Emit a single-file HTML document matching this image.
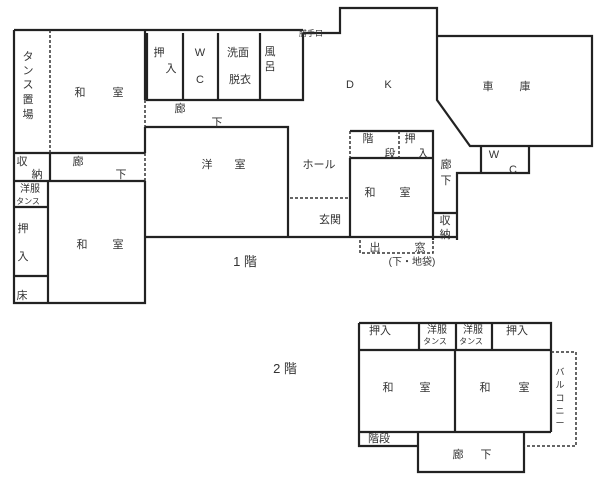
<!DOCTYPE html>
<html><head><meta charset="utf-8"><style>
html,body{margin:0;padding:0;background:#fff;}
svg{display:block;}
text{font-family:"Liberation Sans","Noto Sans CJK JP",sans-serif;fill:#333;}
</style></head><body>
<svg width="611" height="480" viewBox="0 0 611 480" xmlns="http://www.w3.org/2000/svg">
<g fill="none" stroke="#222" stroke-width="2.2">
<path d="M14 30 H303 M14 30 V303 H145 V181 M145 30 V100 M145 127 V153 M14 153 H145 M14 181 H145 M50 153 V181 M48 181 V303 M14 207 H48 M14 276 H48"/>
<path d="M147 33 V100 H303 V33 M183 33 V100 M218 33 V100 M260 33 V100"/>
<path d="M303 33 H340 V8 H437 V100 L470 146 H592 V36 H437"/>
<path d="M481 146 V173 H529 V146 M529 173 H457 V240"/>
<path d="M145 127 H288 V238 M145 237 H457"/>
<path d="M350 131 H433 V240 M350 158 H433 M350 158 V238 M433 213 H457"/>
<path d="M359 323 H551 V432 M359 323 V446 H418 M359 350 H551 M419 323 V350 M456 323 V350 M492 323 V350 M455 350 V432 M359 432 H551 M418 432 V472 H524 V432"/>
</g>
<g fill="none" stroke="#333" stroke-width="1.5" stroke-dasharray="3,2">
<path d="M50 30 V153 M145 100 V127 M145 153 V181 M290 198 H350 M350 131 V158 M399 131 V158 M360 240 V253 H433 V240 M551 352 H576 V446 H524"/>
</g>
<g font-size="11" text-anchor="middle">
<text x="28" y="60">タ</text><text x="28" y="74">ン</text><text x="28" y="88">ス</text><text x="28" y="103">置</text><text x="28" y="118">場</text>
<text x="80" y="96">和</text><text x="118" y="96">室</text>
<text x="159" y="56">押</text><text x="171" y="72">入</text>
<text x="200" y="56">W</text><text x="200" y="83">C</text>
<text x="238" y="56">洗面</text><text x="240" y="83">脱衣</text>
<text x="270" y="55">風</text><text x="270" y="70">呂</text>
<text x="180" y="112">廊</text><text x="217" y="126">下</text>
<text x="22" y="165">収</text><text x="37" y="178">納</text>
<text x="78" y="165">廊</text><text x="121" y="178">下</text>
<text x="30" y="192" font-size="10">洋服</text><text x="28" y="204" font-size="8">タンス</text>
<text x="23" y="232">押</text><text x="23" y="260">入</text>
<text x="22" y="299">床</text>
<text x="82" y="248">和</text><text x="118" y="248">室</text>
<text x="207" y="168">洋</text><text x="240" y="168">室</text>
<text x="350" y="88">D</text><text x="388" y="88">K</text>
<text x="488" y="90">車</text><text x="525" y="90">庫</text>
<text x="311" y="36" font-size="8">勝手口</text>
<text x="319" y="168">ホール</text>
<text x="330" y="223">玄関</text>
<text x="368" y="142">階</text><text x="390" y="157">段</text>
<text x="410" y="142">押</text><text x="423" y="157">入</text>
<text x="370" y="196">和</text><text x="405" y="196">室</text>
<text x="446" y="168">廊</text><text x="446" y="184">下</text>
<text x="445" y="224">収</text><text x="445" y="238">納</text>
<text x="494" y="158">W</text><text x="513" y="173">C</text>
<text x="375" y="251">出</text><text x="420" y="251">窓</text>
<text x="412" y="265" font-size="10">(下・地袋)</text>
<text x="245" y="266" font-size="13">1 階</text>
<text x="285" y="373" font-size="13">2 階</text>
<text x="380" y="334">押入</text>
<text x="437" y="333" font-size="10">洋服</text><text x="435" y="344" font-size="8">タンス</text>
<text x="473" y="333" font-size="10">洋服</text><text x="471" y="344" font-size="8">タンス</text>
<text x="517" y="334">押入</text>
<text x="388" y="391">和</text><text x="425" y="391">室</text>
<text x="485" y="391">和</text><text x="524" y="391">室</text>
<text x="379" y="442">階段</text>
<text x="458" y="458">廊</text><text x="486" y="458">下</text>
<text x="560" y="375" font-size="9">バ</text><text x="560" y="388" font-size="9">ル</text><text x="560" y="401" font-size="9">コ</text><text x="560" y="414" font-size="9">ニ</text><text x="560" y="426" font-size="9">ー</text>
</g>
</svg>
</body></html>
